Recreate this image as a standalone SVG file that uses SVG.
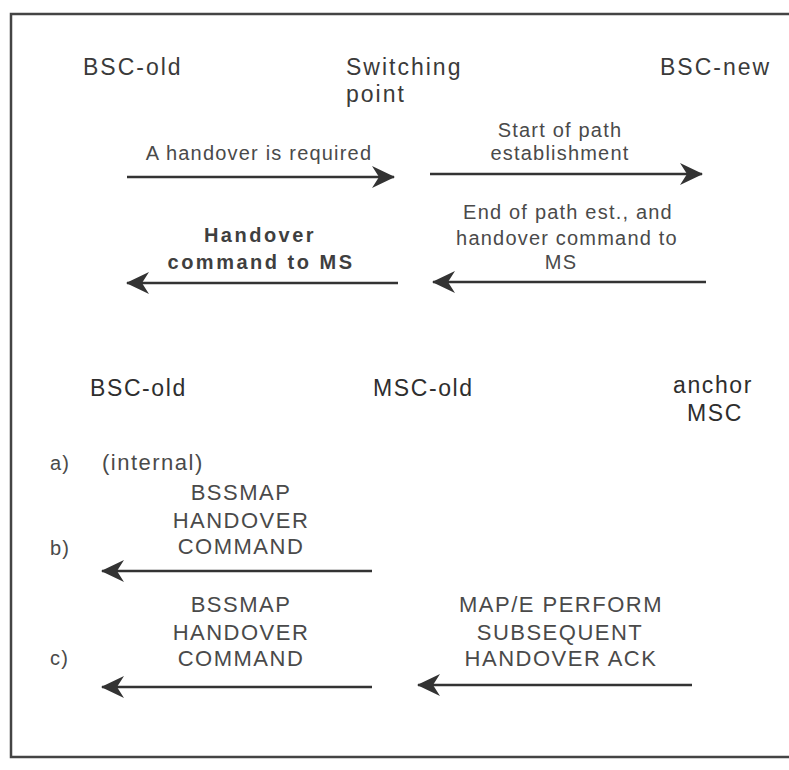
<svg xmlns="http://www.w3.org/2000/svg" width="789" height="770" viewBox="0 0 789 770">
  <style>
    .frame { stroke: #444; stroke-width: 2.5; fill: none; }
    .lbl { font-family: "Liberation Sans", Arial, sans-serif; font-size: 20px; fill: #4a4a4a; letter-spacing: 1.2px; }
    .cap { font-family: "Liberation Sans", Arial, sans-serif; font-size: 22px; fill: #4a4a4a; letter-spacing: 1.5px; }
    .head { font-family: "Liberation Sans", Arial, sans-serif; font-size: 23px; fill: #3a3a3a; letter-spacing: 2px; }
    .head2 { font-family: "Liberation Sans", Arial, sans-serif; font-size: 23px; fill: #2e2e2e; letter-spacing: 1.6px; }
    .strong { font-family: "Liberation Sans", Arial, sans-serif; font-size: 20px; font-weight: bold; fill: #3f3f3f; letter-spacing: 2.5px; }
    .mid { text-anchor: middle; }
    .msg { stroke: #333; stroke-width: 2.5; fill: none; }
  </style>
  <defs>
    <marker id="barb" markerUnits="userSpaceOnUse" markerWidth="24" markerHeight="24" viewBox="0 0 24 24" refX="22" refY="12" orient="auto-start-reverse">
      <path d="M0,1 L23,12 L0,23 L7,12 z" fill="#333"/>
    </marker>
  </defs>

  <!-- outer frame -->
  <path class="frame" d="M789,14 L11,14 L11,757 L789,757"/>

  <!-- upper scenario: entities -->
  <g id="bsc-old-top"><text class="head" x="83" y="75">BSC-old</text></g>
  <g id="switching-point">
    <text class="head" x="346" y="75">Switching</text>
    <text class="head" x="346" y="102">point</text>
  </g>
  <g id="bsc-new"><text class="head" x="660" y="75">BSC-new</text></g>

  <!-- upper scenario: message labels -->
  <g id="msg-handover-required"><text class="lbl mid" x="259" y="160">A handover is required</text></g>
  <g id="msg-start-path">
    <text class="lbl mid" x="560" y="137">Start of path</text>
    <text class="lbl mid" x="560" y="160">establishment</text>
  </g>
  <g id="msg-end-path">
    <text class="lbl mid" x="568" y="219">End of path est., and</text>
    <text class="lbl mid" x="567" y="245">handover command to</text>
    <text class="lbl mid" x="561" y="269">MS</text>
  </g>
  <g id="msg-handover-command-ms">
    <text class="strong mid" x="260" y="242">Handover</text>
    <text class="strong mid" x="261" y="269">command to MS</text>
  </g>

  <!-- lower scenario: entities -->
  <g id="bsc-old-bottom"><text class="head2" x="90" y="396">BSC-old</text></g>
  <g id="msc-old"><text class="head2" x="373" y="396">MSC-old</text></g>
  <g id="anchor-msc">
    <text class="head2 mid" x="713" y="393">anchor</text>
    <text class="head2 mid" x="715" y="421">MSC</text>
  </g>

  <!-- case labels -->
  <g id="case-a">
    <text class="lbl" x="50" y="470">a)</text>
    <text class="cap" x="102" y="470">(internal)</text>
  </g>
  <g id="case-b">
    <text class="lbl" x="50" y="555">b)</text>
    <text class="cap mid" x="241" y="500">BSSMAP</text>
    <text class="cap mid" x="241" y="528">HANDOVER</text>
    <text class="cap mid" x="241" y="554">COMMAND</text>
  </g>
  <g id="case-c">
    <text class="lbl" x="50" y="665">c)</text>
    <text class="cap mid" x="241" y="612">BSSMAP</text>
    <text class="cap mid" x="241" y="640">HANDOVER</text>
    <text class="cap mid" x="241" y="666">COMMAND</text>
    <text class="cap mid" x="561" y="612">MAP/E PERFORM</text>
    <text class="cap mid" x="560" y="640">SUBSEQUENT</text>
    <text class="cap mid" x="561" y="666">HANDOVER ACK</text>
  </g>

  <!-- connectors -->
  <g id="connectors">
    <line class="msg" x1="127" y1="177" x2="394" y2="177" marker-end="url(#barb)"/>
    <line class="msg" x1="430" y1="174" x2="702" y2="174" marker-end="url(#barb)"/>
    <line class="msg" x1="706" y1="282" x2="433" y2="282" marker-end="url(#barb)"/>
    <line class="msg" x1="398" y1="283" x2="127" y2="283" marker-end="url(#barb)"/>
    <line class="msg" x1="372" y1="571" x2="102" y2="571" marker-end="url(#barb)"/>
    <line class="msg" x1="372" y1="687" x2="102" y2="687" marker-end="url(#barb)"/>
    <line class="msg" x1="692" y1="685" x2="418" y2="685" marker-end="url(#barb)"/>
  </g>
</svg>
